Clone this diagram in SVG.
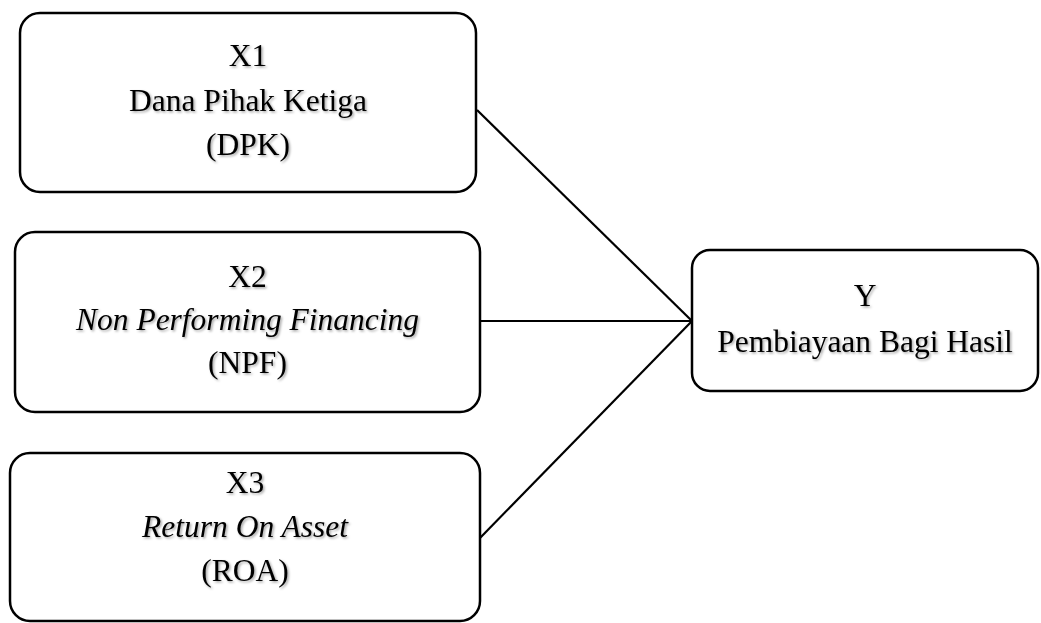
<svg xmlns="http://www.w3.org/2000/svg" width="1041" height="623" viewBox="0 0 1041 623">
  <defs>
    <filter id="shadow" x="-10%" y="-30%" width="120%" height="160%">
      <feDropShadow dx="1.5" dy="1.5" stdDeviation="1" flood-color="#000" flood-opacity="0.35"/>
    </filter>
  </defs>
  <style>
    .box { fill: #ffffff; stroke: #000000; stroke-width: 2.5; }
    .lbl { font-family: "Liberation Serif", "Times New Roman", serif; font-size: 31.5px; fill: #000000; text-anchor: middle; filter: url(#shadow); }
    .it { font-style: italic; }
    .conn { stroke: #000000; stroke-width: 2.2; fill: none; }
  </style>
  <rect width="1041" height="623" fill="#ffffff"/>
  <g id="connectors">
    <line class="conn" x1="477" y1="110" x2="692" y2="321"/>
    <line class="conn" x1="480" y1="321" x2="692" y2="321"/>
    <line class="conn" x1="480" y1="538" x2="692" y2="321"/>
  </g>
  <g id="node-x1">
    <rect class="box" x="20" y="13" width="456" height="179" rx="20" ry="20"/>
    <text class="lbl" x="248" y="66">X1</text>
    <text class="lbl" x="248" y="111">Dana Pihak Ketiga</text>
    <text class="lbl" x="248" y="155">(DPK)</text>
  </g>
  <g id="node-x2">
    <rect class="box" x="15" y="232" width="465" height="180" rx="20" ry="20"/>
    <text class="lbl" x="247.5" y="287">X2</text>
    <text class="lbl it" x="247.5" y="330">Non Performing Financing</text>
    <text class="lbl" x="247.5" y="373">(NPF)</text>
  </g>
  <g id="node-x3">
    <rect class="box" x="10" y="453" width="470" height="168" rx="20" ry="20"/>
    <text class="lbl" x="245" y="493">X3</text>
    <text class="lbl it" x="245" y="537">Return On Asset</text>
    <text class="lbl" x="245" y="581">(ROA)</text>
  </g>
  <g id="node-y">
    <rect class="box" x="692" y="250" width="346" height="141" rx="18" ry="18"/>
    <text class="lbl" x="865" y="306">Y</text>
    <text class="lbl" x="865" y="352">Pembiayaan Bagi Hasil</text>
  </g>
</svg>
